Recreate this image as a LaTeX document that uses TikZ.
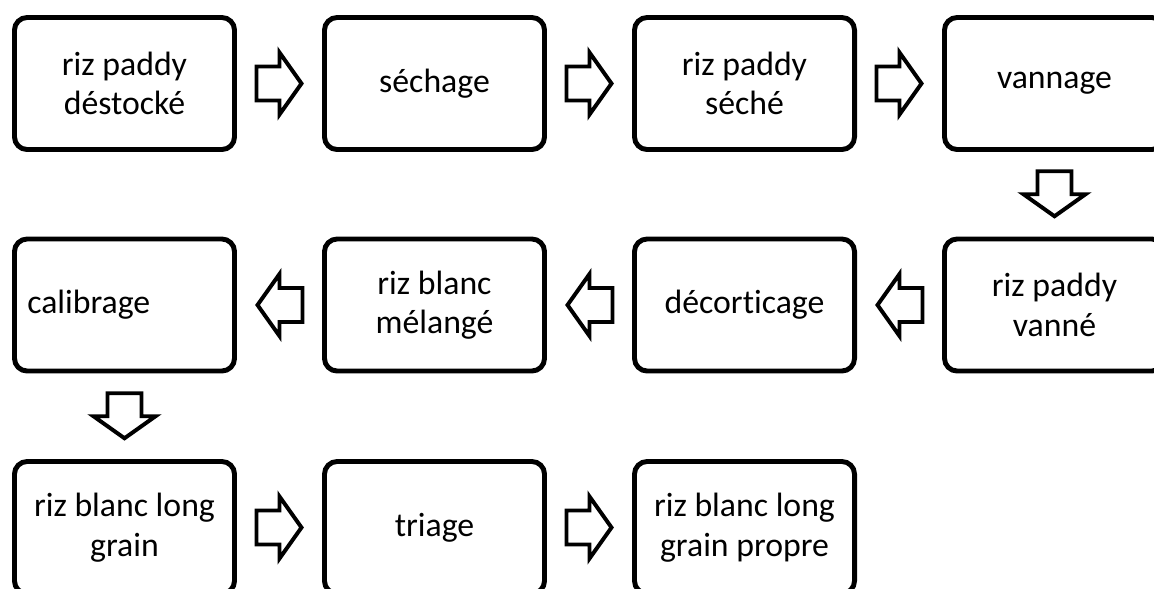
\documentclass[tikz,border=0pt]{standalone}
\usepackage{fontspec}
\setmainfont{Carlito}[Ligatures=NoCommon]
\usetikzlibrary{positioning}

\tikzset{
  etape/.style={draw, line width=3.5pt, rounded corners=9pt,
    minimum width=5.5cm, minimum height=3.3cm, align=center,
    font=\fontsize{24}{28}\selectfont},
  fleche/.pic={
    \draw[line width=2.8pt, line join=miter]
      (-23,-17) -- (0,-17) -- (0,-31) -- (22,0) -- (0,31) -- (0,17) -- (-23,17) -- cycle;
  }
}

\begin{document}
\begin{tikzpicture}[x=0.025cm, y=-0.025cm]
		\useasboundingbox (0,0) rectangle (1154,588);
		
		% first row, left to right
		\node[etape] (paddy)   at (124.5,83.5) {riz paddy\\déstocké};
		\node[etape] (sechage) at (434.5,83.5) {séchage};
		\node[etape] (seche)   at (744.5,83.5) {riz paddy\\séché};
		\node[etape] (vannage) at (1054.5,83.5) {vannage};
		
		% second row, right to left
		\node[etape] (vanne)   at (1054.5,305) {riz paddy\\vanné};
		\node[etape] (decort)  at (744.5,305) {décorticage};
		\node[etape] (melange) at (434.5,305) {riz blanc\\mélangé};
		\node[etape, align=left, text width=4.86cm, inner xsep=9pt] (calib) at (124.5,305) {calibrage};
		
		% third row
		\node[etape] (longgrain) at (124.5,527.5) {riz blanc long\\grain};
		\node[etape] (triage)    at (434.5,527.5) {triage};
		\node[etape] (propre)    at (744.5,527.5) {riz blanc long\\grain propre};
		
		% block arrows
		\path (paddy) -- (sechage) pic[midway]{fleche};
		\path (sechage) -- (seche) pic[midway]{fleche};
		\path (seche) -- (vannage) pic[midway]{fleche};
		\path (vannage) -- (vanne) pic[midway, rotate=-90]{fleche};
		\path (vanne) -- (decort) pic[midway, rotate=180]{fleche};
		\path (decort) -- (melange) pic[midway, rotate=180]{fleche};
		\path (melange) -- (calib) pic[midway, rotate=180]{fleche};
		\path (calib) -- (longgrain) pic[midway, rotate=-90]{fleche};
		\path (longgrain) -- (triage) pic[midway]{fleche};
		\path (triage) -- (propre) pic[midway]{fleche};
	\end{tikzpicture}
\end{document}
